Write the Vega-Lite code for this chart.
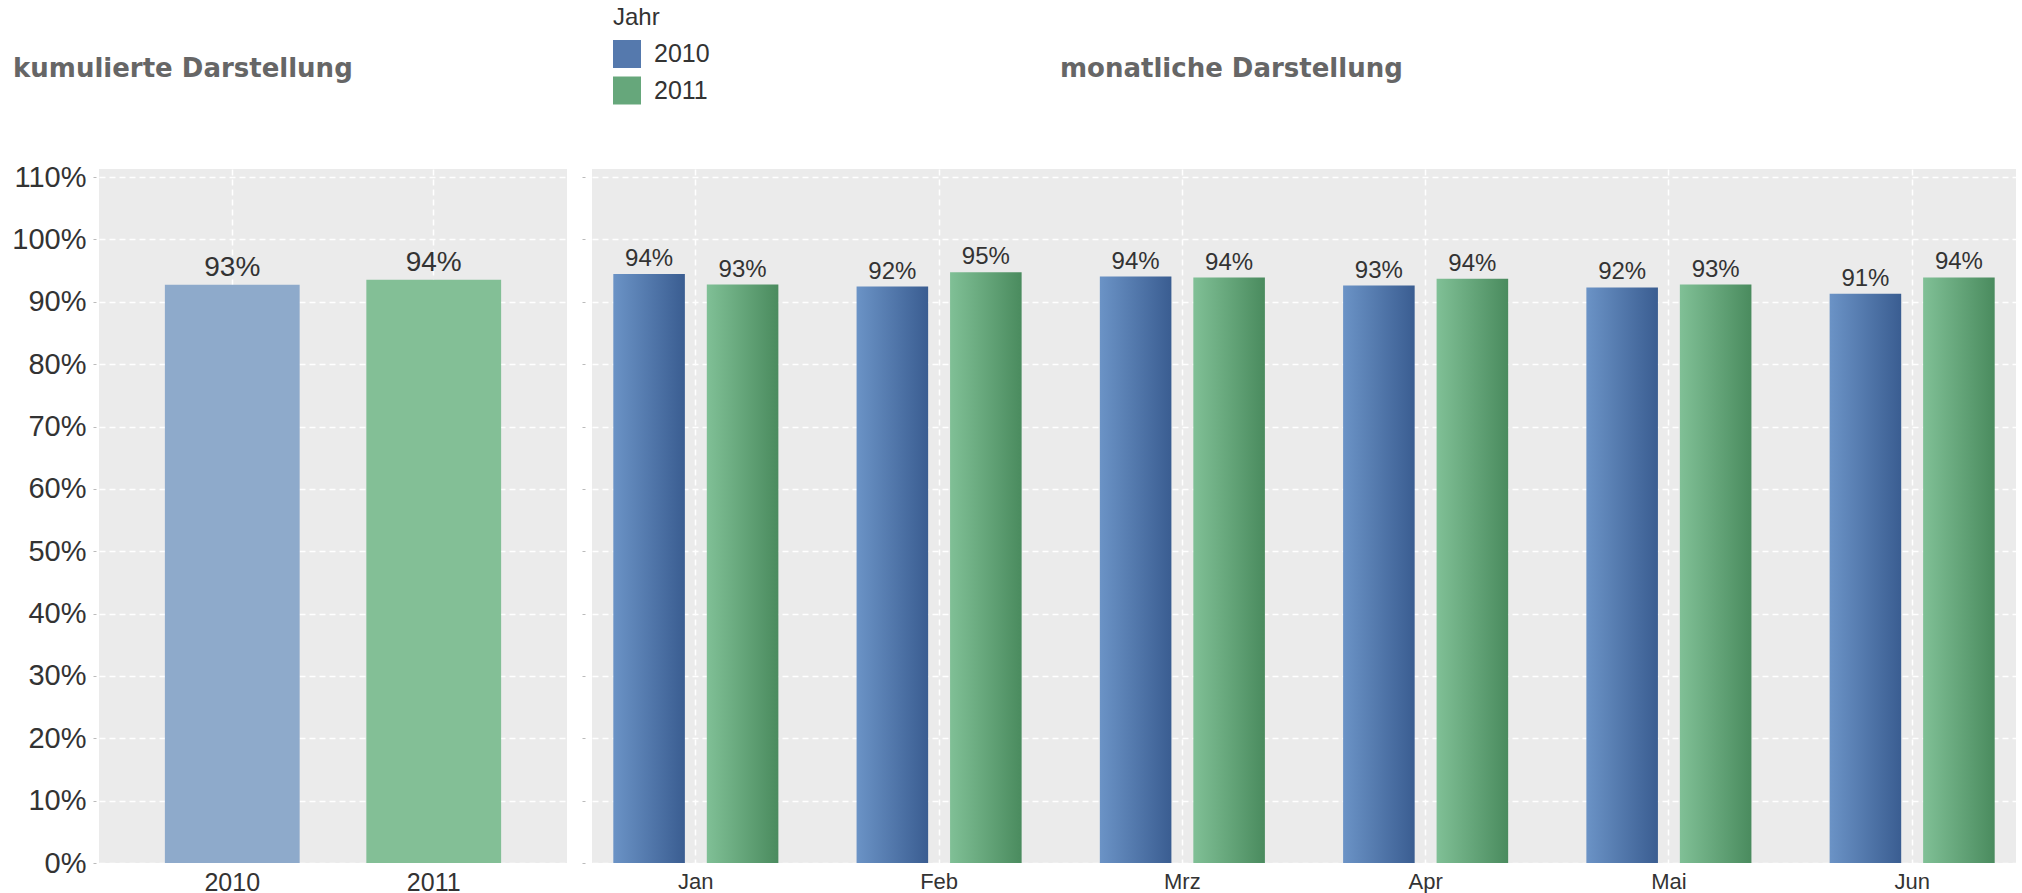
{
  "$schema": "https://vega.github.io/schema/vega-lite/v6.json",
  "padding": {"left": 11, "top": 6, "right": 0, "bottom": 0},
  "datasets": {
    "kum": [
      {"Jahr": "2010", "Quote": 0.9274},
      {"Jahr": "2011", "Quote": 0.9355}
    ],
    "mon": [
      {"Monat": "Jan", "Jahr": "2010", "Quote": 0.9445},
      {"Monat": "Jan", "Jahr": "2011", "Quote": 0.9276},
      {"Monat": "Feb", "Jahr": "2010", "Quote": 0.9244},
      {"Monat": "Feb", "Jahr": "2011", "Quote": 0.9475},
      {"Monat": "Mrz", "Jahr": "2010", "Quote": 0.9405},
      {"Monat": "Mrz", "Jahr": "2011", "Quote": 0.9389},
      {"Monat": "Apr", "Jahr": "2010", "Quote": 0.926},
      {"Monat": "Apr", "Jahr": "2011", "Quote": 0.937},
      {"Monat": "Mai", "Jahr": "2010", "Quote": 0.923},
      {"Monat": "Mai", "Jahr": "2011", "Quote": 0.9276},
      {"Monat": "Jun", "Jahr": "2010", "Quote": 0.913},
      {"Monat": "Jun", "Jahr": "2011", "Quote": 0.939}
    ]
  },
  "spacing": 14,
  "hconcat": [
    {
      "width": 468,
      "height": 694,
      "data": {"name": "kum"},
      "title": {"text": "kumulierte Darstellung", "anchor": "start", "frame": "group", "dx": -86, "offset": 81, "font": "DejaVu Sans", "fontSize": 26, "fontWeight": "bold", "color": "#666666"},
      "encoding": {
        "x": {"field": "Jahr", "type": "nominal", "title": null,
              "scale": {"paddingInner": 0.331, "paddingOuter": 0.327},
              "axis": {"labelAngle": 0, "labelFontSize": 25, "labelColor": "#333333", "ticks": false, "tickSize": 0, "domain": false, "labelPadding": 7, "grid": true, "bandPosition": 0.5}},
        "y": {"field": "Quote", "type": "quantitative", "title": null,
              "scale": {"domain": [0, 1.113], "nice": false, "zero": true},
              "axis": {"values": [0, 0.1, 0.2, 0.3, 0.4, 0.5, 0.6, 0.7, 0.8, 0.9, 1.0, 1.1], "format": ".0%", "labelFontSize": 29, "labelColor": "#333333", "domain": false, "ticks": true, "tickSize": 3, "tickColor": "#bbbbbb", "offset": 3, "labelPadding": 7, "grid": true}}
      },
      "layer": [
        {"mark": {"type": "bar"},
         "encoding": {"color": {"field": "Jahr", "type": "nominal", "scale": {"range": ["#8eaacb", "#83bf96"]}, "legend": null}}},
        {"mark": {"type": "text", "fontSize": 28, "color": "#333333", "baseline": "alphabetic", "dy": -9},
         "encoding": {"text": {"field": "Quote", "type": "quantitative", "format": ".0%"}}}
      ]
    },
    {
      "width": 1424,
      "height": 694,
      "data": {"name": "mon"},
      "title": {"text": "monatliche Darstellung", "anchor": "start", "frame": "group", "dx": 468, "offset": -76, "font": "DejaVu Sans", "fontSize": 26, "fontWeight": "bold", "color": "#666666"},
      "encoding": {
        "x": {"field": "Monat", "type": "nominal", "title": null, "sort": ["Jan", "Feb", "Mrz", "Apr", "Mai", "Jun"],
              "scale": {"paddingInner": 0.3215, "paddingOuter": 0.0876},
              "axis": {"labelAngle": 0, "labelFontSize": 22, "labelColor": "#333333", "ticks": false, "tickSize": 0, "domain": false, "labelPadding": 8, "grid": true, "bandPosition": 0.5}},
        "xOffset": {"field": "Jahr", "type": "nominal", "scale": {"paddingInner": 0.2345, "paddingOuter": 0}},
        "y": {"field": "Quote", "type": "quantitative", "title": null,
              "scale": {"domain": [0, 1.113], "nice": false, "zero": true},
              "axis": {"values": [0, 0.1, 0.2, 0.3, 0.4, 0.5, 0.6, 0.7, 0.8, 0.9, 1.0, 1.1], "labels": false, "domain": false, "ticks": true, "tickSize": 3, "tickColor": "#bbbbbb", "offset": 7, "grid": true}}
      },
      "layer": [
        {"mark": {"type": "bar"},
         "encoding": {
           "fill": {"condition": {"test": "datum.Jahr === '2010'", "value": {"gradient": "linear", "x1": 0, "y1": 0, "x2": 1, "y2": 0, "stops": [{"offset": 0, "color": "#6b93c6"}, {"offset": 1, "color": "#3a5d91"}]}},
                    "value": {"gradient": "linear", "x1": 0, "y1": 0, "x2": 1, "y2": 0, "stops": [{"offset": 0, "color": "#80c096"}, {"offset": 1, "color": "#4a8b5e"}]}}
         }},
        {"mark": {"type": "square", "opacity": 0},
         "encoding": {
           "color": {"field": "Jahr", "type": "nominal",
            "scale": {"range": ["#5579ad", "#66a77b"]},
            "legend": {"orient": "none", "legendX": 21, "legendY": -163, "title": "Jahr", "padding": 0,
                       "titleFontSize": 24, "titleFontWeight": "normal", "titleColor": "#333333", "titlePadding": 10,
                       "labelFontSize": 25, "labelColor": "#333333", "labelOffset": 13,
                       "symbolType": "square", "symbolSize": 784, "symbolStrokeWidth": 0, "symbolOpacity": 1, "rowPadding": 8.5}}
         }},
        {"mark": {"type": "text", "fontSize": 24, "color": "#333333", "baseline": "alphabetic", "dy": -8},
         "encoding": {"text": {"field": "Quote", "type": "quantitative", "format": ".0%"}}}
      ]
    }
  ],
  "resolve": {"scale": {"x": "independent", "y": "independent", "color": "independent", "xOffset": "independent"}, "legend": {"color": "independent"}},
  "config": {
    "font": "Liberation Sans",
    "view": {"fill": "#ebebeb", "stroke": null},
    "axis": {"gridColor": "#ffffff", "gridDash": [6, 4], "gridWidth": 1.5, "gridOpacity": 1},
    "bar": {"opacity": 1}
  }
}
